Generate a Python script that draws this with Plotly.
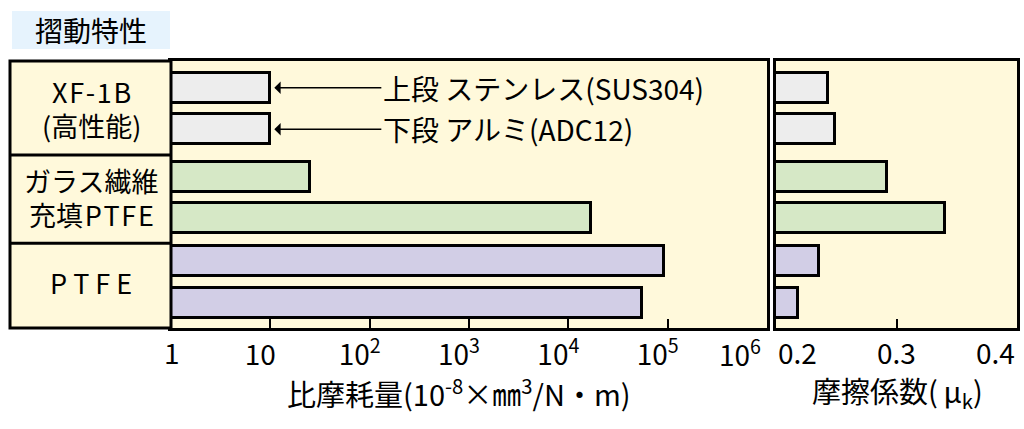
import math
import plotly.graph_objects as go

# ---- data ----
group_lines = [["X\u200aF\u200a-\u200a1\u200aB", "(高性能)"],
               ["ガラス繊維", "充填\u200aP\u200aT\u200aF\u200aE"],
               ["P T F E"]]
counterparts = ["上段 ステンレス(SUS304)", "下段 アルミ(ADC12)"]
wear = [10, 10, 25, 17000, 92000, 55000]           # 比摩耗量 (10^-8 mm3/N·m)
mu = [0.243, 0.249, 0.292, 0.34, 0.236, 0.218]      # 摩擦係数 μk
bar_colors = ["#EDEDED", "#EDEDED", "#D6E8C6", "#D6E8C6", "#D2CEE6", "#D2CEE6"]
wear_ticks = [1, 10, 100, 1000, 10000, 100000, 1000000]
wear_ticktext = ["1", "10", "10<sup>2</sup>", "10<sup>3</sup>", "10<sup>4</sup>", "10<sup>5</sup>", "10<sup>6</sup>"]
mu_ticks = [0.2, 0.3, 0.4]
mu_ticktext = ["0.2", "0.3", "0.4"]

# ---- layout helpers ----
W, H = 1024, 429
def px(x): return x / W
def py(y): return 1 - y / H

FONT = "Noto Sans CJK JP"
BG = "#FFF9DB"

group_base = [0.0, 3.0, 5.85]
within = [0.9, 2.3]
pos = [g + w for g in group_base for w in within]
group_centers = [(pos[2 * i] + pos[2 * i + 1]) / 2 for i in range(3)]
dividers = [(pos[1] + pos[2]) / 2 + 0.07, (pos[3] + pos[4]) / 2 + 0.12]
LINE_OFF = 0.56

fig = go.Figure()
fig.add_trace(go.Bar(x=wear, y=pos, orientation="h", width=1.0,
                     marker=dict(color=bar_colors, line=dict(color="black", width=3)),
                     xaxis="x", yaxis="y", showlegend=False, hoverinfo="x"))
fig.add_trace(go.Bar(x=mu, y=pos, orientation="h", width=1.0,
                     marker=dict(color=bar_colors, line=dict(color="black", width=3)),
                     xaxis="x2", yaxis="y2", showlegend=False, hoverinfo="x"))

ydom = [py(328), py(61)]
fig.update_layout(
    width=W, height=H, margin=dict(l=0, r=0, t=0, b=0, autoexpand=False),
    paper_bgcolor="white", plot_bgcolor=BG, bargap=0,
    font=dict(family=FONT, color="black"),
    xaxis=dict(domain=[px(171), px(767)], type="log", range=[0, 6],
               tickvals=wear_ticks[1:-1], ticktext=wear_ticktext[1:-1],
               ticks="inside", ticklen=9, tickwidth=2, tickcolor="black",
               showline=True, linewidth=3, linecolor="black", mirror=True,
               showgrid=False, zeroline=False, tickfont=dict(size=28),
               ticklabelstandoff=0, ticklabelshift=-10, automargin=False, anchor="y"),
    yaxis=dict(domain=ydom, range=[9, 0], showticklabels=False, ticks="",
               showline=True, linewidth=3, linecolor="black", mirror=True,
               showgrid=False, zeroline=False, automargin=False, anchor="x"),
    xaxis2=dict(domain=[px(776), px(1017)], range=[0.2, 0.4],
                tickvals=mu_ticks, showticklabels=False,
                ticks="inside", ticklen=9, tickwidth=2, tickcolor="black",
                showline=True, linewidth=3, linecolor="black", mirror=True,
                showgrid=False, zeroline=False, automargin=False, anchor="y2"),
    yaxis2=dict(domain=ydom, range=[9, 0], showticklabels=False, ticks="",
                showline=True, linewidth=3, linecolor="black", mirror=True,
                showgrid=False, zeroline=False, automargin=False, anchor="x2"),
)

shapes = []
# title box
shapes.append(dict(type="rect", xref="paper", yref="paper", x0=px(12), x1=px(170),
                   y0=py(49), y1=py(11), fillcolor="#E6F3FD", line=dict(width=0)))
# label column
shapes.append(dict(type="rect", xref="paper", yref="paper", x0=px(10), x1=px(171),
                   y0=py(328), y1=py(61), fillcolor=BG, line=dict(color="black", width=3)))
for d in dividers:
    shapes.append(dict(type="line", xref="paper", yref="y", x0=px(10), x1=px(171),
                       y0=d, y1=d, line=dict(color="black", width=3)))
fig.update_layout(shapes=shapes)

ann = []
ann.append(dict(text="摺動特性", xref="paper", yref="paper", x=px(91), y=py(30),
                xanchor="center", yanchor="middle", showarrow=False, font=dict(size=28)))
for lines, c in zip(group_lines, group_centers):
    n = len(lines)
    for k, t in enumerate(lines):
        yy = c + (k - (n - 1) / 2) * 2 * LINE_OFF
        ann.append(dict(text=t, xref="paper", yref="y", x=px(91), y=yy, showarrow=False,
                        xanchor="center", yanchor="middle", font=dict(size=27)))
for i, t in enumerate(counterparts):
    ann.append(dict(text=t, xref="x", yref="y", x=math.log10(wear[i]), y=pos[i],
                    ax=111, ay=0, showarrow=True, arrowhead=1, arrowsize=1.5,
                    arrowwidth=1.4, arrowcolor="black", standoff=4,
                    xanchor="left", yanchor="middle", font=dict(size=28)))
# end tick labels of the log axis (placed as in the reference)
ann.append(dict(text=wear_ticktext[0], xref="x", yref="paper",
                x=math.log10(wear_ticks[0]), y=py(352), xanchor="center", yanchor="middle",
                xshift=1, showarrow=False, font=dict(size=28)))
ann.append(dict(text=wear_ticktext[-1], xref="x", yref="paper",
                x=math.log10(wear_ticks[-1]), y=py(352), xanchor="right", yanchor="middle",
                xshift=-4, showarrow=False, font=dict(size=28)))
anchors = ["left", "center", "right"]
for v, t, a in zip(mu_ticks, mu_ticktext, anchors):
    ann.append(dict(text=t, xref="x2", yref="paper", x=v, y=py(352), xanchor=a,
                    yanchor="middle", showarrow=False, font=dict(size=28)))
ann.append(dict(text="比摩耗量(10<sup>-8</sup>×㎜<sup>3</sup>/N・m)", xref="paper", yref="paper",
                x=px(459), y=py(392), xanchor="center", yanchor="middle",
                showarrow=False, font=dict(size=29)))
ann.append(dict(text="摩擦係数(\u2009μ<sub>k</sub>)", xref="paper", yref="paper",
                x=px(897), y=py(392), xanchor="center", yanchor="middle",
                showarrow=False, font=dict(size=29)))
fig.update_layout(annotations=ann)

fig.write_html("out.html", config={"displayModeBar": False},
               post_script="document.body.style.margin='0';document.body.style.overflow='hidden';")
